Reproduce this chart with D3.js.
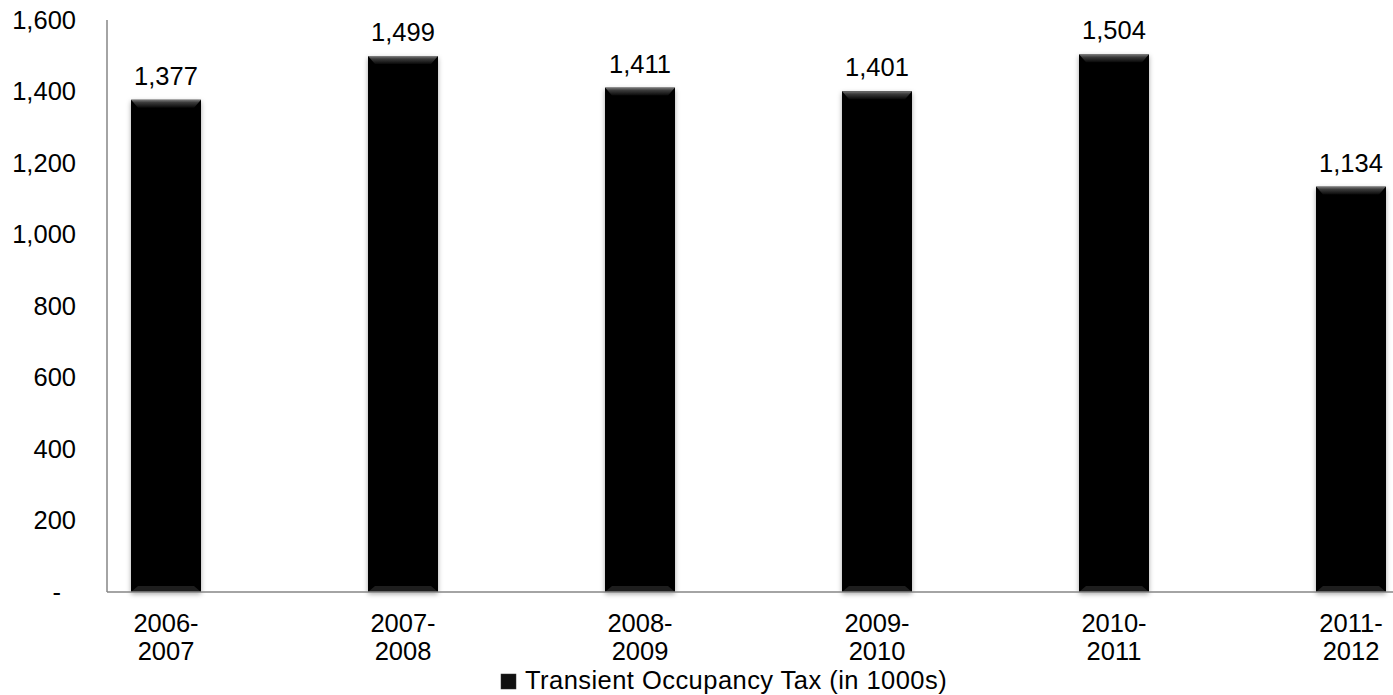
<!DOCTYPE html>
<html>
<head>
<meta charset="utf-8">
<script src="https://cdn.jsdelivr.net/npm/d3@7"></script>
<style>
  body { margin: 0; background: #fff; }
  svg { display: block; font-family: "Liberation Sans", Arial, sans-serif; }
</style>
</head>
<body>
<div id="chart"></div>
<script>
// Datos del gráfico
const years = ["2006-2007", "2007-2008", "2008-2009", "2009-2010", "2010-2011", "2011-2012"];
const taxValues = [1377, 1499, 1411, 1401, 1504, 1134];
const yTicks = [0, 200, 400, 600, 800, 1000, 1200, 1400, 1600];
const seriesName = "Transient Occupancy Tax (in 1000s)";

const width = 1393;
const height = 695;
const axisX = 107;
const y0 = 592;
const yTop = 20;
const step = 237;
const barW = 70;
const firstCenter = 166;
const fontSize = 25.5;

const svg = d3.select("#chart")
              .append("svg")
              .attr("width", width)
              .attr("height", height);

const defs = svg.append("defs");
const shadow = defs.append("filter").attr("id", "shadow")
                   .attr("x", "-20%").attr("y", "-5%").attr("width", "140%").attr("height", "115%");
shadow.append("feDropShadow").attr("dx", 0).attr("dy", 2).attr("stdDeviation", 2.5)
      .attr("flood-color", "#000").attr("flood-opacity", 0.35);

const bevel = defs.append("linearGradient").attr("id", "bevel")
                  .attr("x1", 0).attr("y1", 0).attr("x2", 0).attr("y2", 1);
bevel.append("stop").attr("offset", "0%").attr("stop-color", "#9a9a9a");
bevel.append("stop").attr("offset", "35%").attr("stop-color", "#4a4a4a");
bevel.append("stop").attr("offset", "100%").attr("stop-color", "#0a0a0a");

// Escalas
const x = d3.scaleBand()
            .domain(years)
            .range([firstCenter - step / 2, firstCenter + (years.length - 0.5) * step])
            .paddingInner(1 - barW / step)
            .paddingOuter((1 - barW / step) / 2);

const y = d3.scaleLinear()
            .domain([0, 1600])
            .range([y0, yTop]);

const fmt = d3.format(",");

// Eje Y (solo etiquetas, sin marcas)
const yAxis = svg.append("g")
   .attr("transform", `translate(${axisX},0)`)
   .call(d3.axisLeft(y).tickValues(yTicks).tickSize(0).tickPadding(31)
           .tickFormat(d => d === 0 ? "-" : fmt(d)));
yAxis.select(".domain").remove();
yAxis.selectAll("text")
     .attr("font-size", fontSize)
     .attr("font-family", "Liberation Sans, Arial, sans-serif")
     .attr("fill", "#000")
     .attr("dx", d => d === 0 ? -15 : 0);

// Barras
const bars = svg.append("g").selectAll("g")
   .data(years)
   .join("g");

bars.append("rect")
    .attr("x", d => x(d))
    .attr("width", x.bandwidth())
    .attr("y", (d, i) => y(taxValues[i]))
    .attr("height", (d, i) => y0 - y(taxValues[i]))
    .attr("fill", "#060606")
    .attr("filter", "url(#shadow)");

// Bisel superior de cada barra
bars.append("path")
    .attr("d", (d, i) => {
        const bx = x(d), by = y(taxValues[i]), bw = x.bandwidth();
        return `M${bx},${by} L${bx + bw},${by} L${bx + bw - 7},${by + 8} L${bx + 7},${by + 8} Z`;
    })
    .attr("fill", "url(#bevel)")
    .attr("opacity", 0.8);

bars.append("path")
    .attr("d", (d, i) => {
        const bx = x(d), by = y(taxValues[i]), bw = x.bandwidth();
        return `M${bx},${y0} L${bx + 7},${y0 - 6} L${bx + bw - 7},${y0 - 6} L${bx + bw},${y0} Z`;
    })
    .attr("fill", "#1e1e1e");

// Etiquetas de valores
bars.append("text")
    .attr("x", d => x(d) + x.bandwidth() / 2)
    .attr("y", (d, i) => y(taxValues[i]) - 15)
    .attr("text-anchor", "middle")
    .attr("font-size", fontSize)
    .attr("fill", "#000")
    .text((d, i) => fmt(taxValues[i]));

// Líneas de los ejes
svg.append("line")
   .attr("x1", axisX).attr("x2", axisX)
   .attr("y1", yTop).attr("y2", y0)
   .attr("stroke", "#868686").attr("stroke-width", 1.5);
svg.append("line")
   .attr("x1", axisX).attr("x2", width)
   .attr("y1", y0).attr("y2", y0)
   .attr("stroke", "#868686").attr("stroke-width", 1.5);

// Etiquetas del eje X en dos líneas
const xLabels = svg.append("g").selectAll("text")
   .data(years)
   .join("text")
   .attr("text-anchor", "middle")
   .attr("font-size", fontSize)
   .attr("fill", "#000");
xLabels.append("tspan")
       .attr("x", d => x(d) + x.bandwidth() / 2)
       .attr("y", 632)
       .text(d => d.split("-")[0] + "-");
xLabels.append("tspan")
       .attr("x", d => x(d) + x.bandwidth() / 2)
       .attr("y", 660)
       .text(d => d.split("-")[1]);

// Leyenda
const legend = svg.append("g").attr("transform", "translate(501,674)");
legend.append("rect")
      .attr("width", 15).attr("height", 15)
      .attr("fill", "#111")
      .attr("stroke", "#333").attr("stroke-width", 0.5);
legend.append("text")
      .attr("x", 24).attr("y", 15)
      .attr("font-size", fontSize)
      .attr("letter-spacing", 0.45)
      .attr("fill", "#000")
      .text(seriesName);
</script>
</body>
</html>
